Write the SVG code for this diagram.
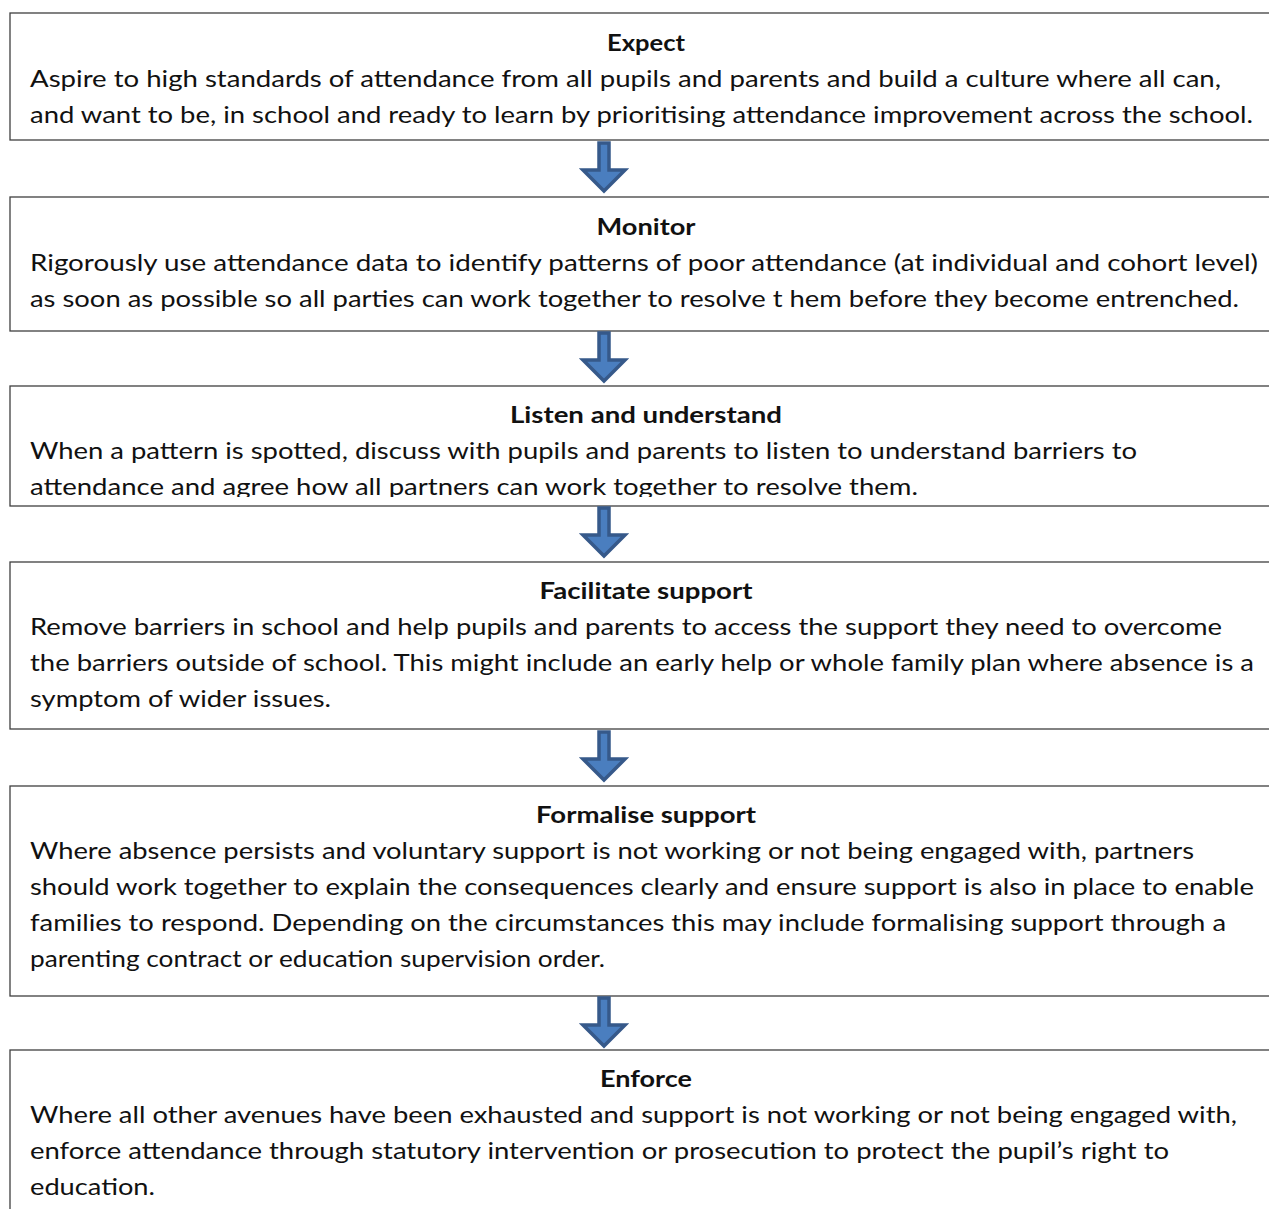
<svg xmlns="http://www.w3.org/2000/svg" width="1269" height="1209" viewBox="0 0 1269 1209">
<defs>
<style>
.box{fill:#fff;stroke:#3f3f3f;stroke-width:1.3}
.t{font-family:Lato,"Open Sans","Liberation Sans",sans-serif;font-size:23px;fill:#111}
.h{font-weight:bold;text-anchor:middle}
.arr{fill:#4a7ebf;stroke:#36598a;stroke-width:3.5;stroke-linejoin:miter}
</style>
<clipPath id="clip3"><rect x="0" y="386" width="1269" height="111"/></clipPath>
<polygon id="arrow" points="-5,0 5,0 5,27 21,27 0,48 -21,27 -5,27"/>
</defs>
<rect width="1269" height="1209" fill="#fff"/>

<g id="expect">
<rect class="box" x="10" y="13" width="1280" height="127"/>
<text class="t h" x="646" y="51" textLength="78" lengthAdjust="spacingAndGlyphs">Expect</text>
<text class="t" x="30" y="87" textLength="1191" lengthAdjust="spacingAndGlyphs">Aspire to high standards of attendance from all pupils and parents and build a culture where all can,</text>
<text class="t" x="30" y="123" textLength="1223" lengthAdjust="spacingAndGlyphs">and want to be, in school and ready to learn by prioritising attendance improvement across the school.</text>
</g>

<g id="monitor">
<rect class="box" x="10" y="197" width="1280" height="134"/>
<text class="t h" x="646" y="235" textLength="99" lengthAdjust="spacingAndGlyphs">Monitor</text>
<text class="t" x="30" y="271" textLength="1228" lengthAdjust="spacingAndGlyphs">Rigorously use attendance data to identify patterns of poor attendance (at individual and cohort level)</text>
<text class="t" x="30" y="307" textLength="1209" lengthAdjust="spacingAndGlyphs">as soon as possible so all parties can work together to resolve t hem before they become entrenched.</text>
</g>

<g id="listen">
<rect class="box" x="10" y="386" width="1280" height="120"/>
<text class="t h" x="646" y="423" textLength="272" lengthAdjust="spacingAndGlyphs">Listen and understand</text>
<text class="t" x="30" y="459" textLength="1107" lengthAdjust="spacingAndGlyphs">When a pattern is spotted, discuss with pupils and parents to listen to understand barriers to</text>
<text class="t" x="30" y="495" textLength="888" lengthAdjust="spacingAndGlyphs" clip-path="url(#clip3)">attendance and agree how all partners can work together to resolve them.</text>
</g>

<g id="facilitate">
<rect class="box" x="10" y="562" width="1280" height="167"/>
<text class="t h" x="646" y="599" textLength="213" lengthAdjust="spacingAndGlyphs">Facilitate support</text>
<text class="t" x="30" y="635" textLength="1192" lengthAdjust="spacingAndGlyphs">Remove barriers in school and help pupils and parents to access the support they need to overcome</text>
<text class="t" x="30" y="671" textLength="1224" lengthAdjust="spacingAndGlyphs">the barriers outside of school. This might include an early help or whole family plan where absence is a</text>
<text class="t" x="30" y="707" textLength="301" lengthAdjust="spacingAndGlyphs">symptom of wider issues.</text>
</g>

<g id="formalise">
<rect class="box" x="10" y="786" width="1280" height="210"/>
<text class="t h" x="646" y="823" textLength="220" lengthAdjust="spacingAndGlyphs">Formalise support</text>
<text class="t" x="30" y="859" textLength="1164" lengthAdjust="spacingAndGlyphs">Where absence persists and voluntary support is not working or not being engaged with, partners</text>
<text class="t" x="30" y="895" textLength="1224" lengthAdjust="spacingAndGlyphs">should work together to explain the consequences clearly and ensure support is also in place to enable</text>
<text class="t" x="30" y="931" textLength="1196" lengthAdjust="spacingAndGlyphs">families to respond. Depending on the circumstances this may include formalising support through a</text>
<text class="t" x="30" y="967" textLength="575" lengthAdjust="spacingAndGlyphs">parenting contract or education supervision order.</text>
</g>

<g id="enforce">
<rect class="box" x="10" y="1050" width="1280" height="200"/>
<text class="t h" x="646" y="1087" textLength="92" lengthAdjust="spacingAndGlyphs">Enforce</text>
<text class="t" x="30" y="1123" textLength="1207" lengthAdjust="spacingAndGlyphs">Where all other avenues have been exhausted and support is not working or not being engaged with,</text>
<text class="t" x="30" y="1159" textLength="1139" lengthAdjust="spacingAndGlyphs">enforce attendance through statutory intervention or prosecution to protect the pupil’s right to</text>
<text class="t" x="30" y="1195" textLength="125" lengthAdjust="spacingAndGlyphs">education.</text>
</g>

<g id="connectors">
<use href="#arrow" class="arr" x="604" y="143"/>
<use href="#arrow" class="arr" x="604" y="333"/>
<use href="#arrow" class="arr" x="604" y="508"/>
<use href="#arrow" class="arr" x="604" y="732"/>
<use href="#arrow" class="arr" x="604" y="998"/>
</g>
</svg>
